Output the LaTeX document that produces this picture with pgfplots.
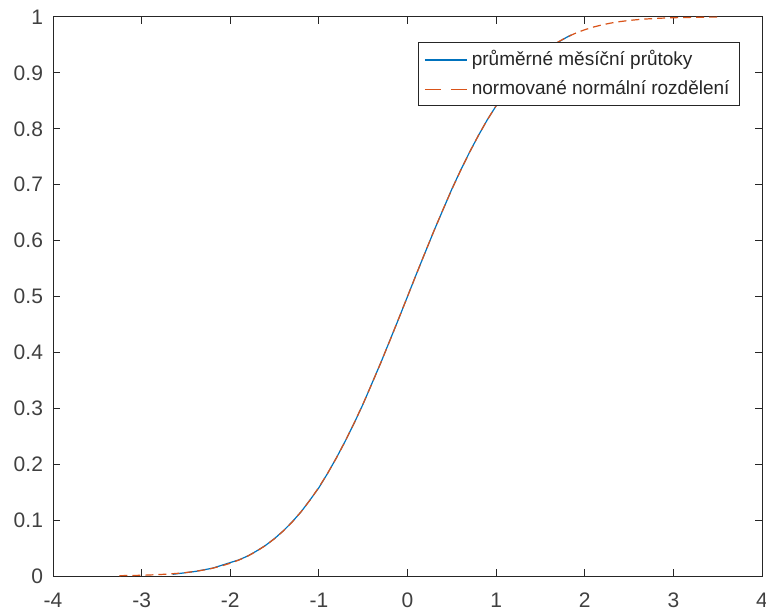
\documentclass[border=0pt]{standalone}
\usepackage{pgfplots}
\pgfplotsset{compat=1.18}
\usepackage{fontspec}
\setmainfont{Liberation Sans}
\definecolor{mblue}{HTML}{0072BD}
\definecolor{morange}{HTML}{D95319}
\definecolor{axgray}{HTML}{262626}
\definecolor{tickgray}{HTML}{404040}
\begin{document}
\begin{tikzpicture}
\begin{axis}[
  scale only axis,
  width=354.5pt, height=279.5pt,
  xmin=-4, xmax=4, ymin=0, ymax=1,
  xtick={-4,-3,...,4},
  ytick={0,0.1,...,1.0},
  yticklabels={0,0.1,0.2,0.3,0.4,0.5,0.6,0.7,0.8,0.9,1},
  tick align=inside,
  major tick length=3.5pt,
  axis line style={axgray, line width=0.5pt},
  every tick/.style={axgray, line width=0.5pt},
  tick label style={font=\fontsize{10.5}{12}\selectfont, text=tickgray},
  /pgf/number format/assume math mode=true,
  xticklabel style={yshift=-5pt},
  yticklabel style={xshift=-1.5pt},
  legend style={at={(rel axis cs:0.969,0.955)}, anchor=north east,
    draw=axgray, line width=0.5pt, fill=white,
    font=\fontsize{9.5}{11}\selectfont,
    row sep=2pt, inner xsep=3pt, inner ysep=2pt},
  legend cell align=left,
]
\addplot[mblue, line width=0.6pt,
  legend image code/.code={\draw[mblue, line width=0.8pt] (0pt,0pt) -- (21pt,0pt);}] coordinates {
(-2.65,0.003) (-2.5,0.006) (-2.4,0.008) (-2.3,0.011) (-2.2,0.014) (-2.1,0.019)
(-2.0,0.024) (-1.9,0.029) (-1.8,0.036) (-1.7,0.045) (-1.6,0.055) (-1.5,0.067)
(-1.4,0.081) (-1.3,0.097) (-1.2,0.115) (-1.1,0.136) (-1.0,0.158) (-0.9,0.184)
(-0.8,0.212) (-0.7,0.242) (-0.6,0.274) (-0.5,0.308) (-0.4,0.345) (-0.3,0.382)
(-0.2,0.421) (-0.1,0.460) (0,0.500) (0.1,0.540) (0.2,0.579) (0.3,0.618)
(0.4,0.655) (0.5,0.692) (0.6,0.726) (0.7,0.758) (0.8,0.788) (0.9,0.816)
(1.0,0.841) (1.1,0.864) (1.2,0.885) (1.3,0.903) (1.4,0.919) (1.5,0.933)
(1.6,0.945) (1.7,0.955) (1.8,0.964) (1.85,0.968)
};
\addlegendentry{\textcolor{axgray}{průměrné měsíční průtoky}}
\addplot[morange, line width=0.6pt, dash pattern=on 4pt off 2.5pt,
  legend image code/.code={\draw[morange, line width=0.9pt, dash pattern=on 8pt off 5pt] (0pt,0pt) -- (21pt,0pt);}] coordinates {
(-3.25,0.0006) (-3.1,0.0010) (-3.0,0.0013) (-2.9,0.0019) (-2.8,0.0026) (-2.7,0.0035)
(-2.6,0.0047) (-2.5,0.0062) (-2.4,0.0082) (-2.3,0.0107) (-2.2,0.0139) (-2.1,0.0179)
(-2.0,0.0228) (-1.9,0.0287) (-1.8,0.0359) (-1.7,0.0446) (-1.6,0.0548) (-1.5,0.0668)
(-1.4,0.0808) (-1.3,0.0968) (-1.2,0.1151) (-1.1,0.1357) (-1.0,0.1587) (-0.9,0.1841)
(-0.8,0.2119) (-0.7,0.2420) (-0.6,0.2743) (-0.5,0.3085) (-0.4,0.3446) (-0.3,0.3821)
(-0.2,0.4207) (-0.1,0.4602) (0,0.5) (0.1,0.5398) (0.2,0.5793) (0.3,0.6179)
(0.4,0.6554) (0.5,0.6915) (0.6,0.7257) (0.7,0.7580) (0.8,0.7881) (0.9,0.8159)
(1.0,0.8413) (1.1,0.8643) (1.2,0.8849) (1.3,0.9032) (1.4,0.9192) (1.5,0.9332)
(1.6,0.9452) (1.7,0.9554) (1.8,0.9641) (1.9,0.9713) (2.0,0.9772) (2.1,0.9821)
(2.2,0.9861) (2.3,0.9893) (2.4,0.9918) (2.5,0.9938) (2.6,0.9953) (2.7,0.9965)
(2.8,0.9974) (2.9,0.9981) (3.0,0.9987) (3.1,0.9990) (3.2,0.9993) (3.3,0.9995)
(3.4,0.9997) (3.5,0.9998)
};
\addlegendentry{\textcolor{axgray}{normované normální rozdělení}}
\end{axis}
\pgfresetboundingbox
\path ([shift={(-26.5pt,-18.5pt)}]current axis.south west) rectangle ([shift={(2pt,8.5pt)}]current axis.north east);
\end{tikzpicture}
\end{document}
